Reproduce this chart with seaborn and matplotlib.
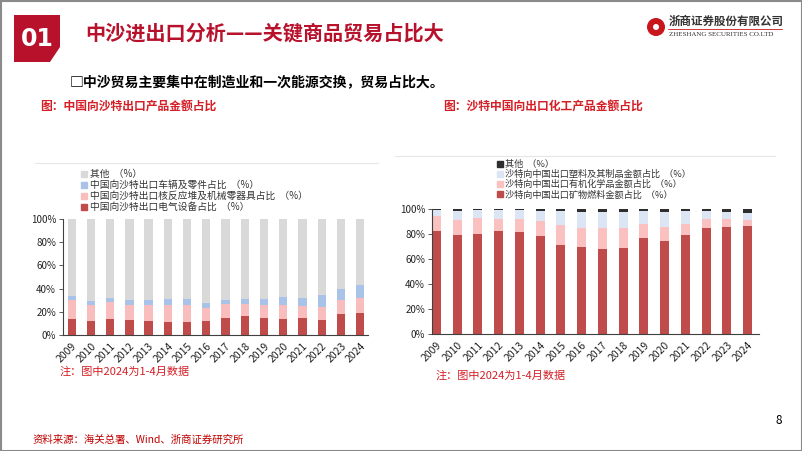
import numpy as np
import pandas as pd
import matplotlib
matplotlib.use("Agg")
import matplotlib.pyplot as plt
import seaborn as sns
from matplotlib.lines import Line2D
from matplotlib.patches import Polygon, Rectangle, Ellipse

sns.set_style("white")
plt.rcParams["font.family"] = ["Noto Sans CJK SC", "DejaVu Sans"]

# -------------------------------------------------------
# Data (% of value)
# -------------------------------------------------------
years = [str(y) for y in range(2009, 2025)]

# left: China -> Saudi exports
exp_elec = [13.8, 12.1, 13.8, 12.7, 12.4, 11.5, 11.2, 12.4, 14.7, 16.4, 15.0, 14.1, 14.7, 13.3, 18.2, 19.3]
exp_mach = [16.2, 13.9, 14.7, 13.5, 13.8, 14.7, 14.8, 11.2, 12.1, 10.6, 11.2, 12.1, 10.7, 10.9, 12.1, 12.4]
exp_veh = [3.4, 3.0, 3.5, 4.3, 4.3, 5.2, 5.0, 3.8, 3.2, 4.4, 5.2, 6.7, 6.9, 10.1, 9.7, 11.3]
exp_other = [66.6, 71.0, 68.0, 69.5, 69.5, 68.6, 69.0, 72.6, 70.0, 68.6, 68.6, 67.1, 67.7, 65.7, 60.0, 57.0]

# right: Saudi -> China exports
imp_fuel = [82.5, 79.0, 80.1, 82.0, 81.2, 78.2, 70.8, 69.2, 67.6, 68.4, 76.4, 74.3, 79.0, 84.9, 85.9, 86.7]
imp_org = [11.7, 12.5, 12.5, 10.0, 10.8, 12.5, 16.7, 15.7, 17.0, 16.2, 11.6, 11.1, 9.3, 6.9, 5.9, 4.3]
imp_plas = [5.3, 6.6, 6.6, 7.2, 7.2, 8.0, 10.6, 13.0, 13.3, 13.0, 10.7, 12.2, 9.8, 6.6, 5.8, 6.1]
imp_other = [0.5, 1.9, 0.8, 0.8, 0.8, 1.3, 1.9, 2.1, 2.1, 2.4, 1.3, 2.4, 1.9, 1.6, 2.4, 2.9]

left_labels = ["中国向沙特出口电气设备占比  （%）",
               "中国向沙特出口核反应堆及机械零器具占比  （%）",
               "中国向沙特出口车辆及零件占比  （%）",
               "其他  （%）"]
right_labels = ["沙特向中国出口矿物燃料金额占比  （%）",
                "沙特向中国出口有机化学品金额占比  （%）",
                "沙特向中国出口塑料及其制品金额占比  （%）",
                "其他  （%）"]

left_colors = ["#BF4B4B", "#F9BDBD", "#A9C2E8", "#D9D9D9"]
right_colors = ["#C04B4B", "#FBC1C1", "#DCE5F4", "#2E2E2E"]

RED_DARK = "#B8112C"
RED_TXT = "#D41F26"
W, H = 802, 451


def px(x, y, w, h):
    # pixel box (top-left origin) -> figure fraction
    return [x / W, 1 - (y + h) / H, w / W, h / H]


def stacked(ax, series, colors, width):
    cum = np.cumsum(np.array(series), axis=0)
    # draw from the top layer down so lower layers overlay
    for k in range(len(series) - 1, -1, -1):
        df = pd.DataFrame({"year": years, "val": cum[k]})
        sns.barplot(data=df, x="year", y="val", color=colors[k], width=width,
                    saturation=1, ax=ax, edgecolor="none", linewidth=0)


fig = plt.figure(figsize=(W / 100, H / 100), dpi=100)

# ---- slide frame / header ----
fig.add_artist(Rectangle((0.5 / W, 0.5 / H), 1 - 1 / W, 1 - 1 / H, transform=fig.transFigure,
                         fill=False, edgecolor="#8A8A8A", linewidth=1.5))
box = [(14, 15), (60, 15), (60, 47), (50, 62), (14, 62)]
fig.add_artist(Polygon([(x / W, 1 - y / H) for x, y in box], closed=True,
                       transform=fig.transFigure, facecolor=RED_DARK, edgecolor="none"))
fig.text(37 / W, 1 - 39 / H, "01", color="white", fontsize=17, fontweight="bold",
         ha="center", va="center", family=["DejaVu Sans"])
fig.text(85 / W, 1 - 33 / H, "中沙进出口分析——关键商品贸易占比大", color=RED_DARK,
         fontsize=14.5, fontweight="bold", ha="left", va="center")

# logo
fig.add_artist(Ellipse((656 / W, 1 - 27 / H), 18 / W, 18 / H, transform=fig.transFigure,
                       facecolor="#C8161D", edgecolor="none"))
fig.add_artist(Ellipse((656 / W, 1 - 27 / H), 6 / W, 6 / H, transform=fig.transFigure,
                       facecolor="white", edgecolor="none"))
fig.text(669 / W, 1 - 21 / H, "浙商证券股份有限公司", color="#333333", fontsize=8.3,
         fontweight="bold", ha="left", va="center")
fig.add_artist(Line2D([668 / W, 782 / W], [1 - 29 / H, 1 - 29 / H], transform=fig.transFigure,
                      color="#C8161D", linewidth=0.6))
fig.text(669 / W, 1 - 35 / H, "ZHESHANG SECURITIES CO.LTD", color="#333333", fontsize=5,
         ha="left", va="center", family=["Liberation Serif"])

fig.text(70 / W, 1 - 83 / H, "□中沙贸易主要集中在制造业和一次能源交换，贸易占比大。", color="black",
         fontsize=10, fontweight="bold", ha="left", va="center")

fig.text(40 / W, 1 - 107 / H, "图：中国向沙特出口产品金额占比", color=RED_TXT, fontsize=8.5,
         fontweight="bold", ha="left", va="center")
fig.text(443 / W, 1 - 107 / H, "图：沙特中国向出口化工产品金额占比", color=RED_TXT, fontsize=8.5,
         fontweight="bold", ha="left", va="center")

# separator lines above the legends
fig.add_artist(Line2D([35 / W, 378 / W], [1 - 163 / H, 1 - 163 / H], transform=fig.transFigure,
                      color="#E6E6E6", linewidth=0.8))
fig.add_artist(Line2D([395 / W, 775 / W], [1 - 156 / H, 1 - 156 / H], transform=fig.transFigure,
                      color="#E6E6E6", linewidth=0.8))

# ---- charts ----
ax1 = fig.add_axes(px(63, 219, 305, 116))
stacked(ax1, [exp_elec, exp_mach, exp_veh, exp_other], left_colors, 0.43)
ax1.set_xlim(-0.45, 15.4)

ax2 = fig.add_axes(px(432, 209, 327, 125))
stacked(ax2, [imp_fuel, imp_org, imp_plas, imp_other], right_colors, 0.43)
ax2.set_xlim(-0.21, 15.55)

for ax in (ax1, ax2):
    ax.set_ylim(0, 100)
    ax.set_yticks([0, 20, 40, 60, 80, 100])
    ax.set_yticklabels([f"{v}%" for v in range(0, 101, 20)])
    ax.set_xlabel("")
    ax.set_ylabel("")
    sns.despine(ax=ax)
    ax.spines["left"].set_color("#404040")
    ax.spines["bottom"].set_color("#404040")
    ax.spines["left"].set_linewidth(0.8)
    ax.spines["bottom"].set_linewidth(0.8)
    ax.tick_params(axis="y", left=True, length=3, width=0.6, labelsize=7, pad=2, colors="#404040",
                   labelcolor="#222222")
    ax.tick_params(axis="x", bottom=False, labelsize=7.5, pad=1, labelcolor="#222222")
    for lab in ax.get_xticklabels():
        lab.set_rotation(45)
        lab.set_ha("right")
        lab.set_rotation_mode("anchor")
    ax.patch.set_alpha(0)

# ---- legends ----
def legend(labels, colors, x, y, size):
    handles = [Line2D([], [], marker="s", linestyle="none", markersize=4, color=c)
               for c in colors][::-1]
    fig.legend(handles, labels[::-1], loc="upper left", bbox_to_anchor=(x / W, 1 - y / H),
               frameon=False, fontsize=size, handlelength=0.5, handletextpad=0.3,
               labelspacing=0.1, borderpad=0, borderaxespad=0, labelcolor="#333333")

legend(left_labels, left_colors, 82, 169, 7.0)
legend(right_labels, right_colors, 498, 160, 6.6)

# ---- notes / footer ----
fig.text(60 / W, 1 - 372 / H, "注：图中2024为1-4月数据", color=RED_TXT, fontsize=8, ha="left", va="center")
fig.text(436 / W, 1 - 376 / H, "注：图中2024为1-4月数据", color=RED_TXT, fontsize=8, ha="left", va="center")
fig.text(33 / W, 1 - 440 / H, "资料来源：海关总署、Wind、浙商证券研究所", color="#C00000", fontsize=7.5,
         ha="left", va="center")
fig.text(779 / W, 1 - 420 / H, "8", color="black", fontsize=8.5, ha="center", va="center")

fig.savefig("out.png", dpi=100)
